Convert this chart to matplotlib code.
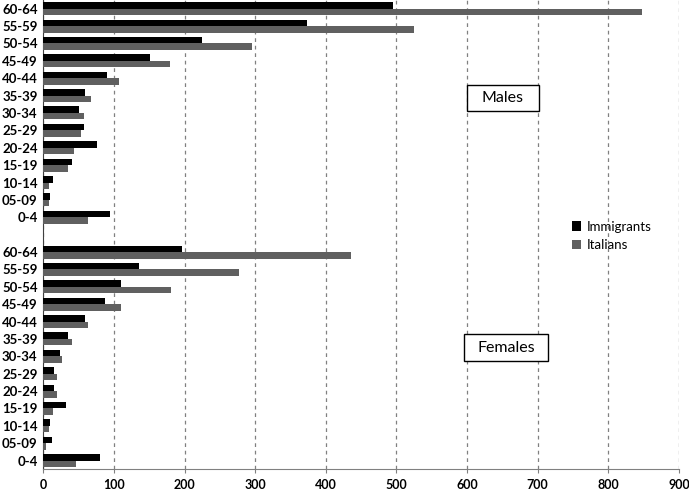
import matplotlib
matplotlib.use("Agg")
import matplotlib.pyplot as plt
from matplotlib.patches import Rectangle
from matplotlib.patches import Patch
import numpy as np

age_groups = ["60-64", "55-59", "50-54", "45-49", "40-44", "35-39", "30-34",
              "25-29", "20-24", "15-19", "10-14", "05-09", "0-4"]

males_immigrants = [495, 374, 225, 151, 90, 59, 51, 57, 76, 41, 14, 10, 95]
males_italians = [848, 525, 296, 179, 107, 68, 58, 53, 44, 35, 8, 8, 63]
females_immigrants = [197, 136, 110, 87, 59, 35, 24, 15, 15, 32, 10, 13, 80]
females_italians = [435, 277, 181, 110, 64, 40, 27, 20, 20, 14, 8, 4, 47]

x_ticks = [0, 100, 200, 300, 400, 500, 600, 700, 800, 900]

plt.rcParams['font.family'] = ['Lato', 'DejaVu Sans']

fig = plt.figure(figsize=(6.89, 4.91), dpi=100)
ax = fig.add_axes([0.0628, 0.0442, 0.9227, 0.9558])

n = len(age_groups)
labels = age_groups + [""] + age_groups
imm = males_immigrants + [0] + females_immigrants
ita = males_italians + [0] + females_italians
pos = np.arange(len(labels))
h = 0.375

ax.barh(pos - h / 2, imm, height=h, color="#000000", label="Immigrants", zorder=3)
ax.barh(pos + h / 2, ita, height=h, color="#606060", label="Italians", zorder=3)

ax.set_ylim(len(labels) - 0.5, -0.5)
ax.set_xlim(0, 900)
ax.set_yticks(pos)
ax.set_yticklabels(labels, fontsize=9.5, fontweight="bold")
ax.set_xticks(x_ticks)
ax.set_xticklabels([str(v) for v in x_ticks], fontsize=9, fontweight="bold")
ax.tick_params(axis="y", length=0, pad=4)
ax.tick_params(axis="x", length=3, color="#808080", pad=4)

ax.xaxis.grid(True, linestyle=(0, (3, 3)), color="#808080", linewidth=0.9, zorder=0)
ax.yaxis.grid(False)
for s in ["top", "right"]:
    ax.spines[s].set_visible(False)
ax.spines["left"].set_color("#404040")
ax.spines["bottom"].set_color("#808080")

# Section label boxes
for (x0, y0, w, hh, txt) in [(466.7, 84.7, 72.3, 26.6, "Males"),
                             (464.3, 334.3, 84.0, 26.4, "Females")]:
    fx = x0 / 689
    fy = 1 - (y0 + hh) / 491
    fig.patches.append(Rectangle((fx, fy), w / 689, hh / 491, transform=fig.transFigure,
                                 facecolor="white", edgecolor="black", linewidth=1.0, zorder=5))
    fig.text((x0 + w / 2) / 689, 1 - (y0 + hh / 2) / 491, txt, ha="center", va="center",
             fontsize=11.5, zorder=6)

handles = [Patch(facecolor="#000000"), Patch(facecolor="#606060")]
leg = fig.legend(handles, ["Immigrants", "Italians"], loc="center left",
                 bbox_to_anchor=(560 / 689, 1 - 236 / 491), frameon=False, fontsize=9.5,
                 handlelength=0.7, handleheight=0.7, handletextpad=0.4, labelspacing=0.5)

fig.savefig("out.png", dpi=100)
